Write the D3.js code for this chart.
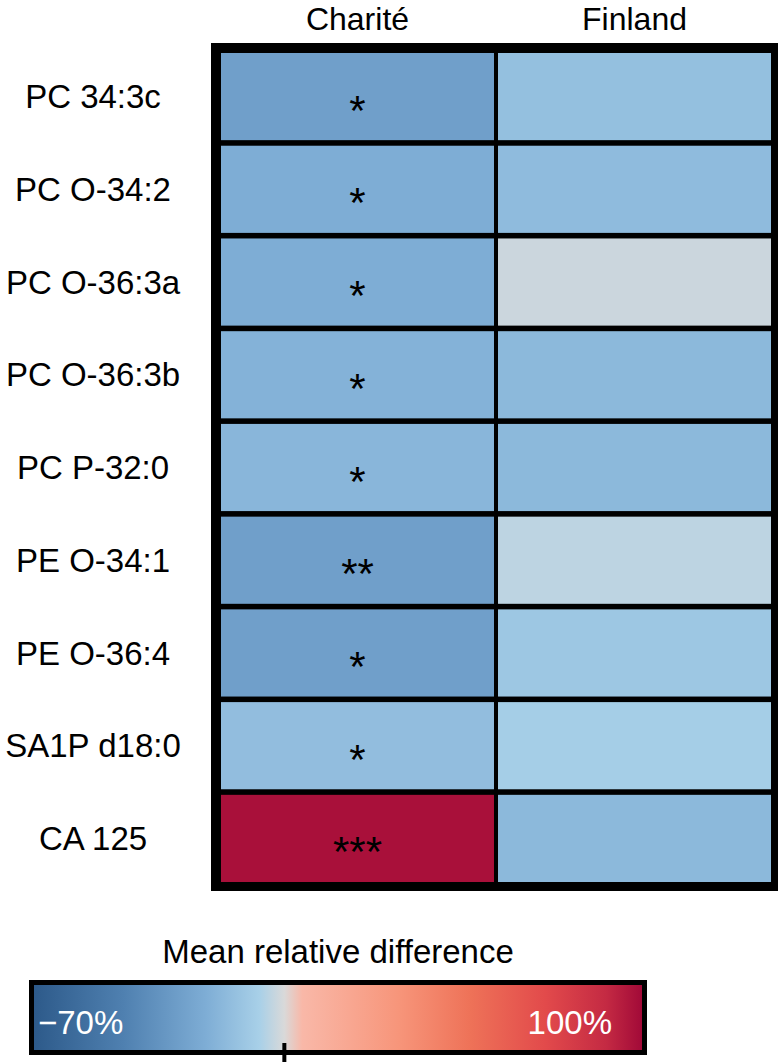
<!DOCTYPE html>
<html>
<head>
  <meta charset="utf-8">
  <title>Mean relative difference heatmap</title>
  <script src="https://cdnjs.cloudflare.com/ajax/libs/d3/7.8.5/d3.min.js"></script>
</head>
<style>
  body { margin: 0; background: #fff; }
  svg { display: block; }
  text { font-family: "Liberation Sans", Arial, Helvetica, sans-serif; }
</style>
<body>
<svg id="svg" width="781" height="1062"></svg>
<script type="text/javascript">
  // rows of the heatmap (top to bottom) and the two cohorts
  const rows = ['PC 34:3c', 'PC O-34:2', 'PC O-36:3a', 'PC O-36:3b', 'PC P-32:0',
                'PE O-34:1', 'PE O-36:4', 'SA1P d18:0', 'CA 125'];
  const cohorts = ['Charité', 'Finland'];

  // mean relative difference in %
  const chariteValues = [-29, -22, -22, -20, -18, -29, -29, -15, 98];
  const finlandValues = [-14, -16, -2, -17, -17, -4, -11, -8, -17];
  // significance marks (Charité only)
  const chariteStars = ['*', '*', '*', '*', '*', '**', '*', '*', '***'];
  const finlandStars = ['', '', '', '', '', '', '', '', ''];

  // legend
  const legendTitle = 'Mean relative difference';
  const legendDomain = [-70, 100];
  const legendLabels = ['\u221270%', '100%'];

  const svg = d3.select('#svg');
  const fs = 33;

  // diverging colour ramp blue -> grey -> red
  const color = d3.scaleLinear()
    .domain([-70, -45, -22, -7, 0, 5, 32, 52, 73, 90, 100])
    .range(['#2d5a8a', '#4f80b0', '#7eadd5', '#a8d0e8', '#d9d9d9', '#f9b8a8',
            '#f7957a', '#ee7258', '#e24a4b', '#c42a43', '#a20a38'])
    .clamp(true);

  const cells = [];
  rows.forEach((r, i) => {
    cells.push({ row: r, col: cohorts[0], v: chariteValues[i], star: chariteStars[i] });
    cells.push({ row: r, col: cohorts[1], v: finlandValues[i], star: finlandStars[i] });
  });

  const x = d3.scaleBand().domain(cohorts).range([221, 771]).paddingInner(0.0145);
  const y = d3.scaleBand().domain(rows).range([53, 882]).paddingInner(0.06);

  // black frame behind the cells, gaps show as grid lines
  svg.append('rect')
    .attr('x', 211).attr('y', 43)
    .attr('width', 567).attr('height', 848)
    .attr('fill', '#000');

  svg.append('g').selectAll('rect')
    .data(cells)
    .join('rect')
    .attr('x', d => x(d.col))
    .attr('y', d => y(d.row))
    .attr('width', x.bandwidth())
    .attr('height', y.bandwidth())
    .attr('fill', d => color(d.v));

  svg.append('g').selectAll('text')
    .data(cells.filter(d => d.star))
    .join('text')
    .attr('x', d => x(d.col) + x.bandwidth() / 2)
    .attr('y', d => y(d.row) + y.bandwidth() / 2 + 28)
    .attr('text-anchor', 'middle')
    .attr('font-size', 42)
    .attr('fill', '#000')
    .text(d => d.star);

  // row labels
  svg.append('g').selectAll('text')
    .data(rows)
    .join('text')
    .attr('x', 93)
    .attr('y', d => y(d) + y.bandwidth() / 2)
    .attr('dy', '0.35em')
    .attr('text-anchor', 'middle')
    .attr('font-size', fs)
    .text(d => d);

  // column headers
  svg.append('g').selectAll('text')
    .data(cohorts)
    .join('text')
    .attr('x', d => x(d) + x.bandwidth() / 2)
    .attr('y', 30)
    .attr('text-anchor', 'middle')
    .attr('font-size', 32)
    .text(d => d);

  // legend
  const lx = d3.scaleLinear().domain(legendDomain).range([34, 642]);
  const grad = svg.append('defs').append('linearGradient')
    .attr('id', 'grad')
    .attr('x1', '0%').attr('x2', '100%');
  grad.selectAll('stop')
    .data(color.domain())
    .join('stop')
    .attr('offset', d => ((lx(d) - lx.range()[0]) / (lx.range()[1] - lx.range()[0]) * 100) + '%')
    .attr('stop-color', d => color(d));

  svg.append('text')
    .attr('x', 338).attr('y', 963)
    .attr('text-anchor', 'middle')
    .attr('font-size', fs)
    .text(legendTitle);

  svg.append('rect')
    .attr('x', 29).attr('y', 980)
    .attr('width', 618).attr('height', 75)
    .attr('fill', '#000');
  svg.append('rect')
    .attr('x', lx.range()[0]).attr('y', 985)
    .attr('width', lx.range()[1] - lx.range()[0]).attr('height', 65)
    .attr('fill', 'url(#grad)');

  svg.append('text')
    .attr('x', lx(-70) + 4).attr('y', 1034)
    .attr('font-size', fs).attr('fill', '#fff')
    .text(legendLabels[0]);
  svg.append('text')
    .attr('x', lx(100) - 30).attr('y', 1034)
    .attr('text-anchor', 'end')
    .attr('font-size', fs).attr('fill', '#fff')
    .text(legendLabels[1]);

  // zero tick
  svg.append('line')
    .attr('x1', lx(0)).attr('x2', lx(0))
    .attr('y1', 1043).attr('y2', 1062)
    .attr('stroke', '#000').attr('stroke-width', 4);
</script>
</body>
</html>
